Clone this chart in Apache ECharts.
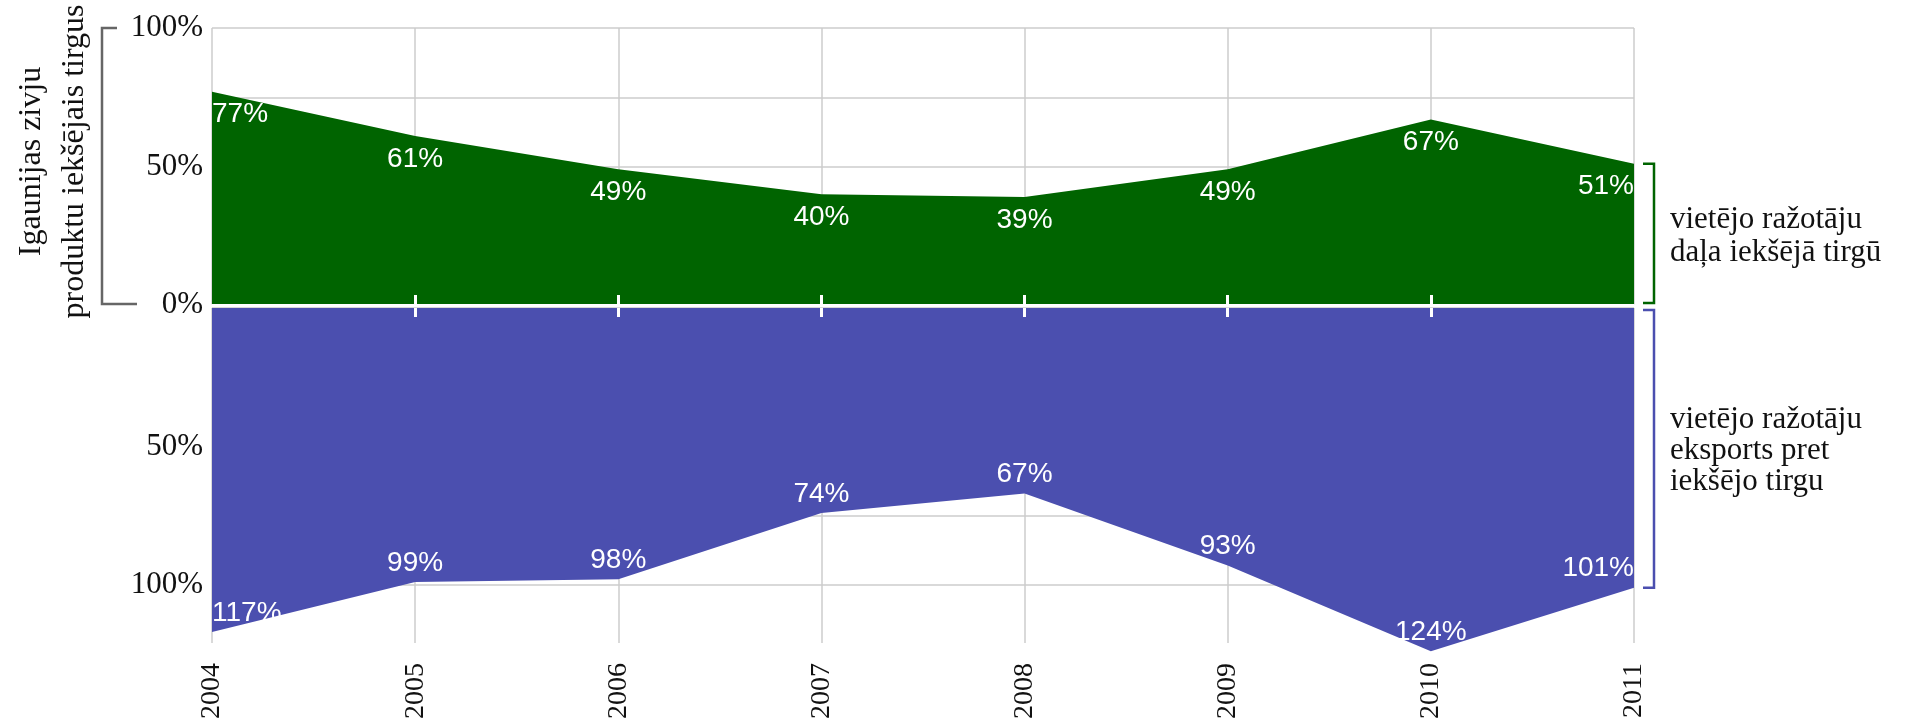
<!DOCTYPE html>
<html>
<head>
<meta charset="utf-8">
<script src="https://cdn.jsdelivr.net/npm/echarts@6/dist/echarts.min.js"></script>
<style>
html,body{margin:0;padding:0;background:#fff;}
#chart{width:1908px;height:719px;}
</style>
</head>
<body>
<div id="chart"></div>
<script>
const years = ['2004','2005','2006','2007','2008','2009','2010','2011'];
const domesticShare = [77,61,49,40,39,49,67,51];
const exportRatio = [117,99,98,74,67,93,124,101];
const topTickLabels = [0,50,100];
const bottomTickLabels = [50,100];
const yTitle = 'Igaunijas zivju\nproduktu iekšējais tirgus';
const greenLegend = 'vietējo ražotāju\ndaļa iekšējā tirgū';
const blueLegend = 'vietējo ražotāju\neksports pret\niekšējo tirgu';

const GREEN = '#006400';
const BLUE = '#4b4faf';
const GRIDC = '#cccccc';
const SERIF = 'Liberation Serif';
const SANS = 'Liberation Sans';

const chart = echarts.init(document.getElementById('chart'));

function mkData(vals) {
  return vals.map((v, i) => {
    const item = { value: v };
    if (i === 0) item.label = { align: 'left' };
    if (i === vals.length - 1) item.label = { align: 'right' };
    return item;
  });
}

const lastIdx = years.length - 1;
const tickInterval = (i) => i > 0 && i < lastIdx;

chart.setOption({
  animation: false,
  grid: [
    { left: 212, top: 28, width: 1422, height: 277, containLabel: false, outerBoundsMode: 'none' },
    { left: 212, top: 308, width: 1422, height: 335, containLabel: false, outerBoundsMode: 'none' }
  ],
  xAxis: [
    { gridIndex: 0, type: 'category', data: years, boundaryGap: false, position: 'bottom',
      axisLine: { show: false }, axisTick: { show: false }, axisLabel: { show: false },
      splitLine: { show: true, lineStyle: { color: GRIDC, width: 1.5 } } },
    { gridIndex: 0, type: 'category', data: years, boundaryGap: false, position: 'bottom', z: 10,
      axisLine: { show: true, lineStyle: { color: '#fff', width: 2 } },
      axisTick: { show: true, inside: true, length: 10, interval: tickInterval, lineStyle: { color: '#fff', width: 3 } },
      axisLabel: { show: false }, splitLine: { show: false } },
    { gridIndex: 1, type: 'category', data: years, boundaryGap: false, position: 'bottom',
      axisLine: { show: false }, axisTick: { show: false },
      axisLabel: { show: true, rotate: 90, margin: 20, fontFamily: SERIF, fontSize: 28, color: '#111' },
      splitLine: { show: true, lineStyle: { color: GRIDC, width: 1.5 } } },
    { gridIndex: 1, type: 'category', data: years, boundaryGap: false, position: 'top', z: 10,
      axisLine: { show: false },
      axisTick: { show: true, inside: true, length: 9, interval: tickInterval, lineStyle: { color: '#fff', width: 3 } },
      axisLabel: { show: false }, splitLine: { show: false } }
  ],
  yAxis: [
    { gridIndex: 0, type: 'value', min: 0, max: 100, interval: 25,
      axisLine: { show: false }, axisTick: { show: false },
      axisLabel: { margin: 9, fontFamily: SERIF, fontSize: 31, color: '#111',
        formatter: v => topTickLabels.includes(v) ? v + '%' : '' },
      splitLine: { show: true, lineStyle: { color: GRIDC, width: 1.5 } },
      name: yTitle, nameLocation: 'middle', nameRotate: 90, nameGap: 116,
      nameTextStyle: { fontFamily: SERIF, fontSize: 32, lineHeight: 43, color: '#111', padding: [0, 0, 0, 10] } },
    { gridIndex: 1, type: 'value', min: 0, max: 121, interval: 25, inverse: true,
      axisLine: { show: false }, axisTick: { show: false },
      axisLabel: { margin: 9, fontFamily: SERIF, fontSize: 31, color: '#111',
        formatter: v => bottomTickLabels.includes(v) ? v + '%' : '' },
      splitLine: { show: true, lineStyle: { color: [GRIDC, GRIDC, GRIDC, GRIDC, GRIDC, 'rgba(0,0,0,0)'], width: 1.5 } } }
  ],
  series: [
    { type: 'line', xAxisIndex: 0, yAxisIndex: 0, data: mkData(domesticShare),
      symbol: 'circle', symbolSize: 0, lineStyle: { width: 0 }, clip: false,
      areaStyle: { color: GREEN, opacity: 1 },
      label: { show: true, position: 'bottom', distance: 9, color: '#fff', fontFamily: SANS, fontSize: 28,
        formatter: p => p.value + '%' } },
    { type: 'line', xAxisIndex: 2, yAxisIndex: 1, data: mkData(exportRatio),
      symbol: 'circle', symbolSize: 0, lineStyle: { width: 0 }, clip: false,
      areaStyle: { color: BLUE, opacity: 1 },
      label: { show: true, position: 'top', distance: 5, color: '#fff', fontFamily: SANS, fontSize: 28,
        formatter: p => p.value + '%' } }
  ]
});

// decorations: brackets and side texts, positioned through the axes
const topY = v => chart.convertToPixel({ xAxisIndex: 0, yAxisIndex: 0 }, [0, v])[1];
const botY = v => chart.convertToPixel({ xAxisIndex: 2, yAxisIndex: 1 }, [0, v])[1];
const rightX = chart.convertToPixel({ xAxisIndex: 0, yAxisIndex: 0 }, [lastIdx, 0])[0];

const gTop = topY(domesticShare[lastIdx]);
const gBot = topY(0) - 2;
const bTop = botY(0) + 2;
const bBot = botY(exportRatio[lastIdx]);
const bx1 = rightX + 9, bx2 = rightX + 20;

const lTop = topY(100), lBot = topY(0) - 1;

chart.setOption({
  graphic: [
    { type: 'polyline', silent: true,
      shape: { points: [[117, lTop], [102, lTop], [102, lBot], [137, lBot]] },
      style: { stroke: '#666', lineWidth: 2.5, fill: null } },
    { type: 'polyline', silent: true,
      shape: { points: [[bx1, gTop], [bx2, gTop], [bx2, gBot], [bx1, gBot]] },
      style: { stroke: GREEN, lineWidth: 2.5, fill: null } },
    { type: 'polyline', silent: true,
      shape: { points: [[bx1, bTop], [bx2, bTop], [bx2, bBot], [bx1, bBot]] },
      style: { stroke: BLUE, lineWidth: 2.5, fill: null } },
    { type: 'text', silent: true, x: rightX + 36, y: (gTop + gBot) / 2 + 3,
      style: { text: greenLegend, fontFamily: SERIF, fontSize: 31, lineHeight: 33, fill: '#111',
        verticalAlign: 'middle', align: 'left' } },
    { type: 'text', silent: true, x: rightX + 36, y: (bTop + bBot) / 2 + 2,
      style: { text: blueLegend, fontFamily: SERIF, fontSize: 31, lineHeight: 31, fill: '#111',
        verticalAlign: 'middle', align: 'left' } }
  ]
});
</script>
</body>
</html>
